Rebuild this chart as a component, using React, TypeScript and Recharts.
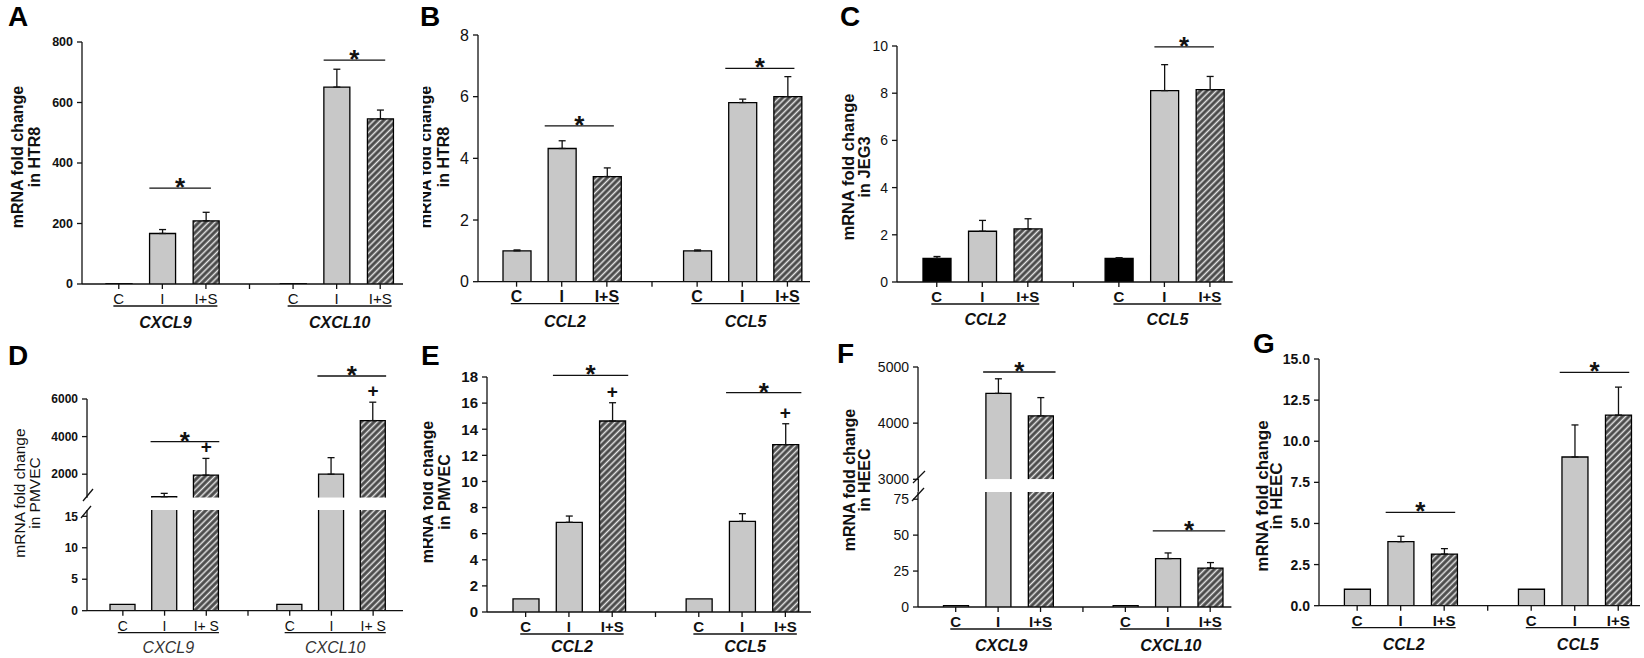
import React from "react";
import {
  BarChart,
  Bar,
  XAxis,
  YAxis,
  ErrorBar,
  ReferenceLine,
  ReferenceDot,
} from "recharts";

const FONT = "'Liberation Sans', Arial, Helvetica, sans-serif";
const GRAY = "#c8c8c8";

const slotKeys = ["C1", "I1", "S1", "mid", "C2", "I2", "S2"];
const slotLabels = ["C", "I", "I+S", "", "C", "I", "I+S"];

// A - HTR8
const aGenes = ["CXCL9", "CXCL10"];
const aMean = [1, 167, 209, 1, 651, 546];
const aErr = [0, 13, 28, 0, 59, 29];
const aTicks = [0, 200, 400, 600, 800];

// B - HTR8
const bGenes = ["CCL2", "CCL5"];
const bMean = [1.0, 4.32, 3.41, 1.0, 5.81, 6.0];
const bErr = [0.03, 0.25, 0.28, 0.03, 0.11, 0.65];
const bTicks = [0, 2, 4, 6, 8];

// C - JEG3
const cGenes = ["CCL2", "CCL5"];
const cMean = [1.0, 2.15, 2.25, 1.0, 8.11, 8.15];
const cErr = [0.08, 0.46, 0.43, 0.03, 1.1, 0.56];
const cTicks = [0, 2, 4, 6, 8, 10];

// D - PMVEC (broken axis)
const dGenes = ["CXCL9", "CXCL10"];
const dMean = [1.0, 800, 1950, 1.0, 2000, 4850];
const dErr = [0, 180, 890, 0, 880, 980];
const dTicksUpper = [2000, 4000, 6000];
const dTicksLower = [0, 5, 10, 15];

// E - PMVEC
const eGenes = ["CCL2", "CCL5"];
const eMean = [1.0, 6.87, 14.63, 1.0, 6.94, 12.82];
const eErr = [0, 0.48, 1.4, 0, 0.59, 1.6];
const eTicks = [0, 2, 4, 6, 8, 10, 12, 14, 16, 18];

// F - HEEC (broken axis)
const fGenes = ["CXCL9", "CXCL10"];
const fMean = [1, 4530, 4130, 1, 33.7, 27.1];
const fErr = [0, 260, 325, 0, 3.9, 3.8];
const fTicksUpper = [3000, 4000, 5000];
const fTicksLower = [0, 25, 50, 75];

// G - HEEC
const gGenes = ["CCL2", "CCL5"];
const gMean = [1.0, 3.89, 3.14, 1.0, 9.04, 11.59];
const gErr = [0, 0.33, 0.33, 0, 1.95, 1.7];
const gTicks = [0, 2.5, 5, 7.5, 10, 12.5, 15];

type Seg = {
  top: number;
  bottom: number;
  domain: [number, number];
  ticks: number[];
  showX: boolean;
  sig?: { g: number; y: number }[];
  plus?: number[];
};

type Panel = {
  genes: string[];
  mean: number[];
  err: number[];
  left: number;
  right: number;
  padL: number;
  padR: number;
  barSize: number;
  cFill: string;
  labels?: string[];
  xfs: number;
  xbold: boolean;
  gbold: boolean;
  gdy: number;
  yfs: number;
  ybold: boolean;
  fmt?: (v: number) => string;
  ext: [number, number];
  segs: Seg[];
};

const panels: Panel[] = [
  {
    genes: aGenes, mean: aMean, err: aErr,
    left: 82, right: 403, padL: 15, padR: 1, barSize: 26, cFill: GRAY,
    xfs: 15, xbold: false, gbold: true, gdy: 44, yfs: 12.5, ybold: true, ext: [13, 5],
    segs: [{ top: 42, bottom: 284, domain: [0, 800], ticks: aTicks, showX: true,
      sig: [{ g: 0, y: 317 }, { g: 1, y: 740 }] }],
  },
  {
    genes: bGenes, mean: bMean, err: bErr,
    left: 478, right: 810, padL: 16, padR: 0, barSize: 28, cFill: GRAY,
    xfs: 16, xbold: true, gbold: true, gdy: 45, yfs: 16, ybold: false, ext: [17, 7],
    segs: [{ top: 35, bottom: 281.7, domain: [0, 8], ticks: bTicks, showX: true,
      sig: [{ g: 0, y: 5.05 }, { g: 1, y: 6.92 }] }],
  },
  {
    genes: cGenes, mean: cMean, err: cErr,
    left: 897.3, right: 1233, padL: 17, padR: 0, barSize: 28, cFill: "#000",
    xfs: 15, xbold: true, gbold: true, gdy: 43, yfs: 14, ybold: false, ext: [10, 4],
    segs: [{ top: 45.7, bottom: 281.7, domain: [0, 10], ticks: cTicks, showX: true,
      sig: [{ g: 1, y: 9.96 }] }],
  },
  {
    genes: dGenes, mean: dMean, err: dErr,
    left: 87.3, right: 403.3, padL: 15, padR: 9, barSize: 25, cFill: GRAY,
    labels: ["C", "I", "I+ S", "", "C", "I", "I+ S"],
    xfs: 14, xbold: false, gbold: false, gdy: 42, yfs: 12, ybold: true, ext: [14, 13],
    segs: [
      { top: 399, bottom: 497.7, domain: [750, 6000], ticks: dTicksUpper, showX: false,
        sig: [{ g: 0, y: 3729 }, { g: 1, y: 7223 }], plus: [0, 1] },
      { top: 510, bottom: 610.7, domain: [0, 16], ticks: dTicksLower, showX: true },
    ],
  },
  {
    genes: eGenes, mean: eMean, err: eErr,
    left: 486.7, right: 810.7, padL: 17, padR: 4, barSize: 26, cFill: GRAY,
    xfs: 15, xbold: true, gbold: true, gdy: 40, yfs: 15, ybold: true, ext: [16, 16],
    segs: [{ top: 376.7, bottom: 611.7, domain: [0, 18], ticks: eTicks, showX: true,
      sig: [{ g: 0, y: 18.13 }, { g: 1, y: 16.8 }], plus: [0, 1] }],
  },
  {
    genes: fGenes, mean: fMean, err: fErr,
    left: 918.3, right: 1231.7, padL: 16.5, padR: 0, barSize: 25, cFill: GRAY,
    xfs: 15, xbold: true, gbold: true, gdy: 44, yfs: 14, ybold: false, ext: [15, 15],
    segs: [
      { top: 366.7, bottom: 479, domain: [3000, 5000], ticks: fTicksUpper, showX: false,
        sig: [{ g: 0, y: 4911 }] },
      { top: 491.7, bottom: 606.7, domain: [0, 80], ticks: fTicksLower, showX: true,
        sig: [{ g: 1, y: 52.9 }] },
    ],
  },
  {
    genes: gGenes, mean: gMean, err: gErr,
    left: 1319, right: 1640, padL: 16.4, padR: 0, barSize: 26, cFill: GRAY,
    xfs: 15, xbold: true, gbold: true, gdy: 44, yfs: 14, ybold: true, ext: [15, 11],
    fmt: (v: number) => v.toFixed(1),
    segs: [{ top: 359.3, bottom: 606, domain: [0, 15], ticks: gTicks, showX: true,
      sig: [{ g: 0, y: 5.67 }, { g: 1, y: 14.19 }] }],
  },
];

const CHAR_W: Record<string, number> = { C: 0.722, I: 0.278, "+": 0.584, S: 0.667, " ": 0.278 };
const textW = (s: string, fs: number) =>
  s.split("").reduce((a, ch) => a + (CHAR_W[ch] ?? 0.6), 0) * fs;

function rowsFor(p: Panel, s: Seg) {
  const [lo, hi] = s.domain;
  return slotKeys.map((key, i) => {
    if (i === 3) return { key, v: null, e: null, grp: -1 };
    const j = i < 3 ? i : i - 1;
    const v = p.mean[j];
    const inSeg = lo === 0 || v >= lo;
    const top = v + p.err[j];
    return {
      key,
      grp: j % 3,
      v: inSeg ? v : null,
      e: inSeg && top <= hi && p.err[j] > 0 ? [0, p.err[j]] : null,
    };
  });
}

const makeBarShape = (cFill: string) => (props: any) => {
  const { x, y, width, height, payload } = props;
  if (!width || height == null || !payload) return <g />;
  const fill = payload.grp === 2 ? "url(#hatch)" : payload.grp === 0 ? cFill : GRAY;
  const b = y + height;
  return (
    <g>
      <rect x={x} y={y} width={width} height={height} fill={fill} />
      <path
        d={`M${x},${b} L${x},${y} L${x + width},${y} L${x + width},${b}`}
        fill="none"
        stroke="#000"
        strokeWidth={1.3}
      />
    </g>
  );
};

// y arrives as axis line + tickSize (5)
const makeTick = (p: Panel, band: number) => (props: any) => {
  const { x, y, payload } = props;
  const idx = slotKeys.indexOf(payload.value);
  const labels = p.labels ?? slotLabels;
  const weight = p.xbold ? "bold" : "normal";
  const parts = [
    <text key="t" x={x} y={y + 15} textAnchor="middle" fontSize={p.xfs} fontWeight={weight} fontFamily={FONT} fill="#111">
      {labels[idx]}
    </text>,
  ];
  if (idx === 1 || idx === 5) {
    const g = idx === 1 ? 0 : 1;
    const x0 = x - band - textW(labels[0], p.xfs) / 2;
    const x1 = x + band + textW(labels[2], p.xfs) / 2;
    parts.push(
      <line key="u" x1={x0} x2={x1} y1={y + 17} y2={y + 17} stroke="#111" strokeWidth={1.3} />,
      <text key="g" x={(x0 + x1) / 2} y={y - 5 + p.gdy} textAnchor="middle" fontSize={16}
        fontStyle="italic" fontWeight={p.gbold ? "bold" : "normal"} fontFamily={FONT}
        fill={p.gbold ? "#111" : "#333"}>
        {p.genes[g]}
      </text>
    );
  }
  return <g>{parts}</g>;
};

const makeSig = (ext: [number, number]) => (props: any) => {
  const { x1, y1, x2 } = props;
  const xa = x1 - ext[0];
  const xb = x2 + ext[1];
  return (
    <g>
      <line x1={xa} y1={y1} x2={xb} y2={y1} stroke="#111" strokeWidth={1.3} />
      <text x={(xa + xb) / 2} y={y1 + 8} textAnchor="middle" fontSize={26} fontWeight="bold" fontFamily={FONT} fill="#111">
        *
      </text>
    </g>
  );
};

const plusShape = (props: any) => (
  <text x={props.cx} y={props.cy - 5} textAnchor="middle" fontSize={19} fontWeight="bold" fontFamily={FONT} fill="#111">
    +
  </text>
);

const YW = 60;
const MT = 50;
const MR = 6;
const XH = 52;
const MBH = 10;

function SegChart({ p, s }: { p: Panel; s: Seg }) {
  const w = p.right - p.left + YW + MR;
  const mb = s.showX ? 0 : MBH;
  const h = s.bottom - s.top + MT + (s.showX ? XH : mb);
  const band = (p.right - p.left - p.padL - p.padR) / 7;
  const data = rowsFor(p, s);
  return (
    <div style={{ position: "absolute", left: p.left - YW, top: s.top - MT, width: w, height: h }}>
      <BarChart width={w} height={h} data={data} margin={{ top: MT, right: MR, left: 0, bottom: mb }}>
        <XAxis
          dataKey="key"
          hide={!s.showX}
          height={XH}
          padding={{ left: p.padL, right: p.padR }}
          interval={0}
          tickSize={5}
          tickMargin={0}
          axisLine={{ stroke: "#111", strokeWidth: 1.3 }}
          tickLine={{ stroke: "#111", strokeWidth: 1.3 }}
          tick={makeTick(p, band)}
        />
        <YAxis
          width={YW}
          domain={s.domain}
          ticks={s.ticks}
          allowDataOverflow
          interval={0}
          tickSize={5}
          tickMargin={4}
          tickFormatter={p.fmt}
          axisLine={{ stroke: "#111", strokeWidth: 1.3 }}
          tickLine={{ stroke: "#111", strokeWidth: 1.3 }}
          tick={{ fontSize: p.yfs, fontWeight: p.ybold ? "bold" : "normal", fill: "#111", fontFamily: FONT }}
        />
        <Bar dataKey="v" barSize={p.barSize} isAnimationActive={false} shape={makeBarShape(p.cFill)}>
          <ErrorBar dataKey="e" width={3.5} stroke="#111" strokeWidth={1.3} />
        </Bar>
        {(s.sig ?? []).map((sg, k) => (
          <ReferenceLine
            key={`sig-${k}`}
            segment={[
              { x: sg.g === 0 ? "I1" : "I2", y: sg.y },
              { x: sg.g === 0 ? "S1" : "S2", y: sg.y },
            ]}
            ifOverflow="visible"
            shape={makeSig(p.ext)}
          />
        ))}
        {(s.plus ?? []).map((g) => (
          <ReferenceDot
            key={`plus-${g}`}
            x={g === 0 ? "S1" : "S2"}
            y={p.mean[g * 3 + 2] + p.err[g * 3 + 2]}
            ifOverflow="visible"
            shape={plusShape}
          />
        ))}
      </BarChart>
    </div>
  );
}

const letters = [
  { t: "A", x: 8, y: 26 },
  { t: "B", x: 420, y: 26 },
  { t: "C", x: 840, y: 26 },
  { t: "D", x: 8, y: 365 },
  { t: "E", x: 421, y: 365 },
  { t: "F", x: 837, y: 363 },
  { t: "G", x: 1253, y: 353 },
];

const yLabels = [
  { l2: "in HTR8", b1: 23, b2: 40, yc: 157, fs: 16, bold: true, clip: false },
  { l2: "in HTR8", b1: 431, b2: 449, yc: 157, fs: 16, bold: true, clip: true },
  { l2: "in JEG3", b1: 854, b2: 870, yc: 167, fs: 16.5, bold: true, clip: false },
  { l2: "in PMVEC", b1: 25, b2: 40, yc: 493, fs: 15.5, bold: false, clip: false },
  { l2: "in PMVEC", b1: 433, b2: 450, yc: 492, fs: 16, bold: true, clip: true },
  { l2: "in HEEC", b1: 855, b2: 870, yc: 480, fs: 16, bold: true, clip: false },
  { l2: "in HEEC", b1: 1268, b2: 1282, yc: 496, fs: 17, bold: true, clip: false },
];

const breaks = [
  [83, 501, 93, 489],
  [81, 518, 91, 506],
  [913, 483, 925, 471],
  [912, 501, 924, 488],
];

export default function App() {
  return (
    <div style={{ position: "absolute", left: 0, top: 0, width: 1644, height: 658, background: "#fff", overflow: "hidden" }}>
      {panels.map((p, i) =>
        p.segs.map((s, k) => <SegChart key={`${i}-${k}`} p={p} s={s} />)
      )}
      <svg width={1644} height={658} style={{ position: "absolute", left: 0, top: 0, pointerEvents: "none" }}>
        <defs>
          <pattern id="hatch" patternUnits="userSpaceOnUse" width={4.5} height={4.5} patternTransform="rotate(45)">
            <rect width={4.5} height={4.5} fill="#4a4a4a" />
            <line x1={2.25} y1={0} x2={2.25} y2={4.5} stroke="#e6e6e6" strokeWidth={1.5} />
          </pattern>
          <clipPath id="rightOf423">
            <rect x={423} y={0} width={1221} height={658} />
          </clipPath>
        </defs>
        {letters.map((l) => (
          <text key={l.t} x={l.x} y={l.y} fontSize={28} fontWeight="bold" fontFamily={FONT} fill="#000">
            {l.t}
          </text>
        ))}
        {yLabels.map((l, i) => (
          <g key={i} clipPath={l.clip ? "url(#rightOf423)" : undefined}>
            {[["mRNA fold change", l.b1], [l.l2, l.b2]].map(([t, b]) => (
              <text
                key={t as string}
                transform={`translate(${b},${l.yc}) rotate(-90)`}
                textAnchor="middle"
                fontSize={l.fs}
                fontWeight={l.bold ? "bold" : "normal"}
                fontFamily={FONT}
                fill="#111"
              >
                {t}
              </text>
            ))}
          </g>
        ))}
        <line x1={918.3} y1={479} x2={918.3} y2={491.7} stroke="#111" strokeWidth={1.3} />
        {breaks.map((b, i) => (
          <line key={i} x1={b[0]} y1={b[1]} x2={b[2]} y2={b[3]} stroke="#111" strokeWidth={1.3} />
        ))}
      </svg>
    </div>
  );
}
